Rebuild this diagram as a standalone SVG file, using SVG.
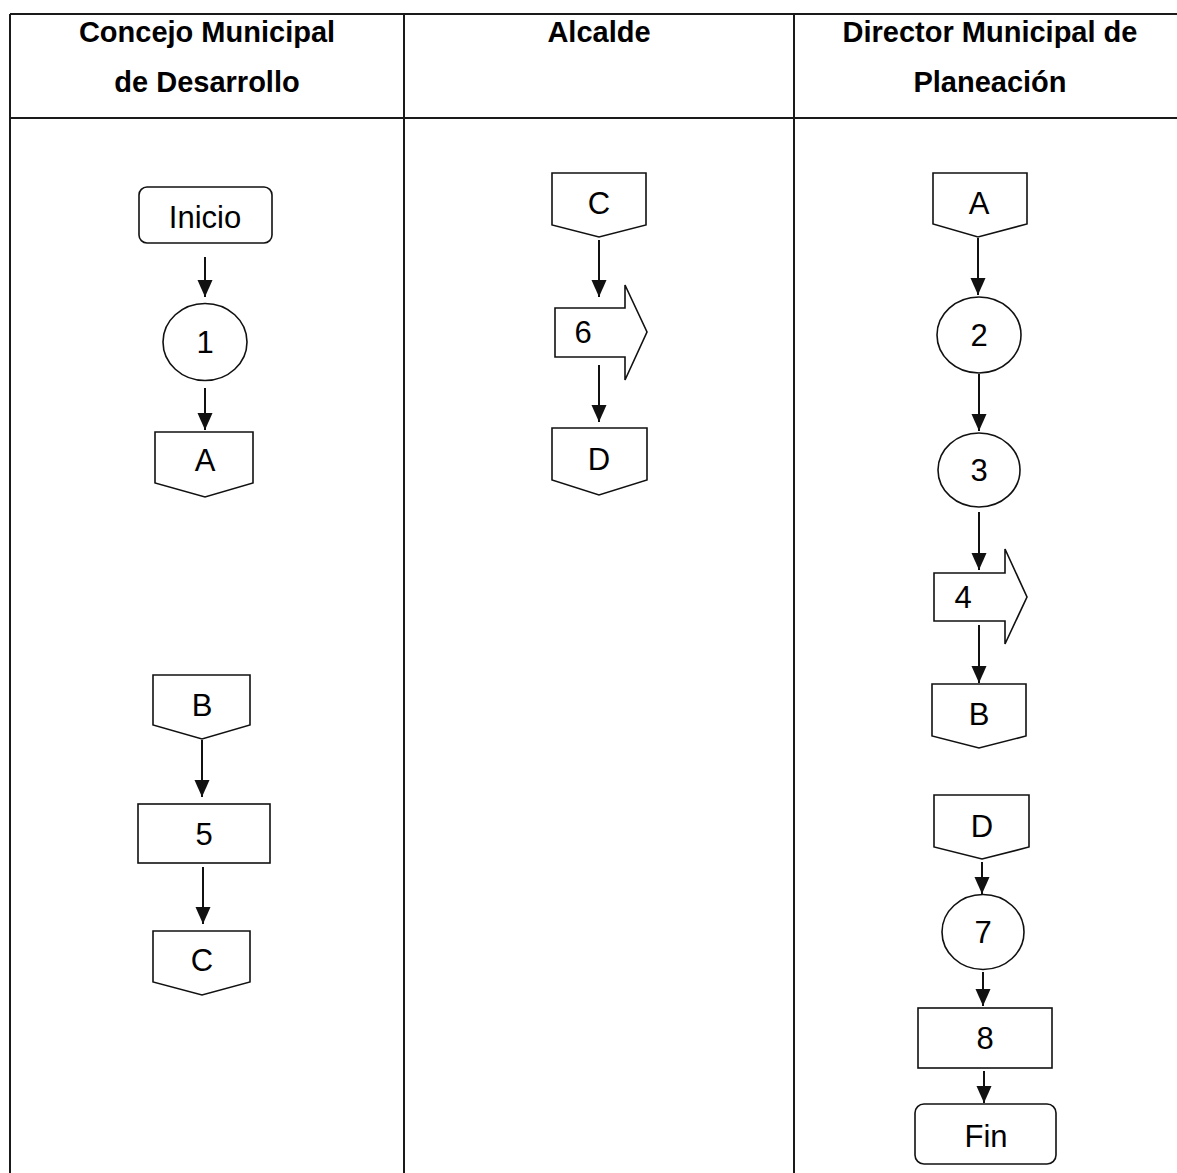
<svg xmlns="http://www.w3.org/2000/svg" width="1177" height="1173" viewBox="0 0 1177 1173">
  <style>
    .grid { stroke: #1a1a1a; stroke-width: 2; fill: none; }
    .head { font-family: "Liberation Sans", Arial, sans-serif; font-weight: bold; font-size: 29px; fill: #000; text-anchor: middle; }
    .shape { fill: #fff; stroke: #111; stroke-width: 1.6; }
    .lbl { font-family: "Liberation Sans", Arial, sans-serif; font-size: 31px; fill: #000; text-anchor: middle; }
    .flow { stroke: #111; stroke-width: 2; fill: none; marker-end: url(#tip); }
  </style>
  <defs>
    <marker id="tip" markerUnits="userSpaceOnUse" markerWidth="18" markerHeight="16" refX="17" refY="7.5" orient="auto">
      <path d="M0,0 L17,7.5 L0,15 Z" fill="#111"/>
    </marker>
  </defs>

  <rect width="1177" height="1173" fill="#fff"/>

  <!-- swimlane table -->
  <g id="table">
    <path class="grid" d="M10,14 H1177 M10,118 H1177 M10,14 V1173 M404,14 V1173 M794,14 V1173"/>
    <text class="head" x="207" y="42">Concejo Municipal</text>
    <text class="head" x="207" y="92">de Desarrollo</text>
    <text class="head" x="599" y="42">Alcalde</text>
    <text class="head" x="990" y="42">Director Municipal de</text>
    <text class="head" x="990" y="92">Planeación</text>
  </g>

  <!-- connectors -->
  <g id="connectors">
    <path class="flow" d="M205,257 V297"/>
    <path class="flow" d="M205,388 V430"/>
    <path class="flow" d="M202,740 V797"/>
    <path class="flow" d="M203,867 V924"/>
    <path class="flow" d="M599,240 V297"/>
    <path class="flow" d="M599,365 V422"/>
    <path class="flow" d="M978,238 V295"/>
    <path class="flow" d="M979,374 V431"/>
    <path class="flow" d="M979,512 V570"/>
    <path class="flow" d="M979,625 V683"/>
    <path class="flow" d="M982,862 V894"/>
    <path class="flow" d="M983,972 V1006"/>
    <path class="flow" d="M984,1071 V1103"/>
  </g>

  <!-- Concejo Municipal de Desarrollo -->
  <g id="inicio">
    <rect class="shape" x="139" y="187" width="133" height="56" rx="8"/>
    <text class="lbl" x="205" y="228">Inicio</text>
  </g>
  <g id="step1">
    <ellipse class="shape" cx="205" cy="342" rx="42" ry="38.5"/>
    <text class="lbl" x="205" y="353">1</text>
  </g>
  <g id="connA-out">
    <path class="shape" d="M155,432 H253 V483 L205,497 L155,483 Z"/>
    <text class="lbl" x="205" y="471">A</text>
  </g>
  <g id="connB-in">
    <path class="shape" d="M153,675 H250 V725 L202,739 L153,725 Z"/>
    <text class="lbl" x="202" y="716">B</text>
  </g>
  <g id="step5">
    <rect class="shape" x="138" y="804" width="132" height="59"/>
    <text class="lbl" x="204" y="845">5</text>
  </g>
  <g id="connC-out">
    <path class="shape" d="M153,931 H250 V982 L202,995 L153,982 Z"/>
    <text class="lbl" x="202" y="971">C</text>
  </g>

  <!-- Alcalde -->
  <g id="connC-in">
    <path class="shape" d="M552,173 H646 V225 L599,237 L552,225 Z"/>
    <text class="lbl" x="599" y="214">C</text>
  </g>
  <g id="step6">
    <path class="shape" d="M555,308 H625 V285 L647,332 L625,380 V357 H555 Z"/>
    <text class="lbl" x="583" y="343">6</text>
  </g>
  <g id="connD-out">
    <path class="shape" d="M552,428 H647 V480 L599,495 L552,480 Z"/>
    <text class="lbl" x="599" y="470">D</text>
  </g>

  <!-- Director Municipal de Planeación -->
  <g id="connA-in">
    <path class="shape" d="M933,173 H1027 V224 L978,237 L933,224 Z"/>
    <text class="lbl" x="979" y="214">A</text>
  </g>
  <g id="step2">
    <ellipse class="shape" cx="979" cy="335" rx="42" ry="38"/>
    <text class="lbl" x="979" y="346">2</text>
  </g>
  <g id="step3">
    <ellipse class="shape" cx="979" cy="470" rx="41" ry="37"/>
    <text class="lbl" x="979" y="481">3</text>
  </g>
  <g id="step4">
    <path class="shape" d="M934,573 H1005 V549 L1027,597 L1005,644 V621 H934 Z"/>
    <text class="lbl" x="963" y="608">4</text>
  </g>
  <g id="connB-out">
    <path class="shape" d="M932,684 H1026 V736 L979,748 L932,736 Z"/>
    <text class="lbl" x="979" y="725">B</text>
  </g>
  <g id="connD-in">
    <path class="shape" d="M934,795 H1029 V847 L982,859 L934,847 Z"/>
    <text class="lbl" x="982" y="837">D</text>
  </g>
  <g id="step7">
    <ellipse class="shape" cx="983" cy="932" rx="41" ry="37.5"/>
    <text class="lbl" x="983" y="943">7</text>
  </g>
  <g id="step8">
    <rect class="shape" x="918" y="1008" width="134" height="60"/>
    <text class="lbl" x="985" y="1049">8</text>
  </g>
  <g id="fin">
    <rect class="shape" x="915" y="1104" width="141" height="60" rx="9"/>
    <text class="lbl" x="986" y="1147">Fin</text>
  </g>
</svg>
